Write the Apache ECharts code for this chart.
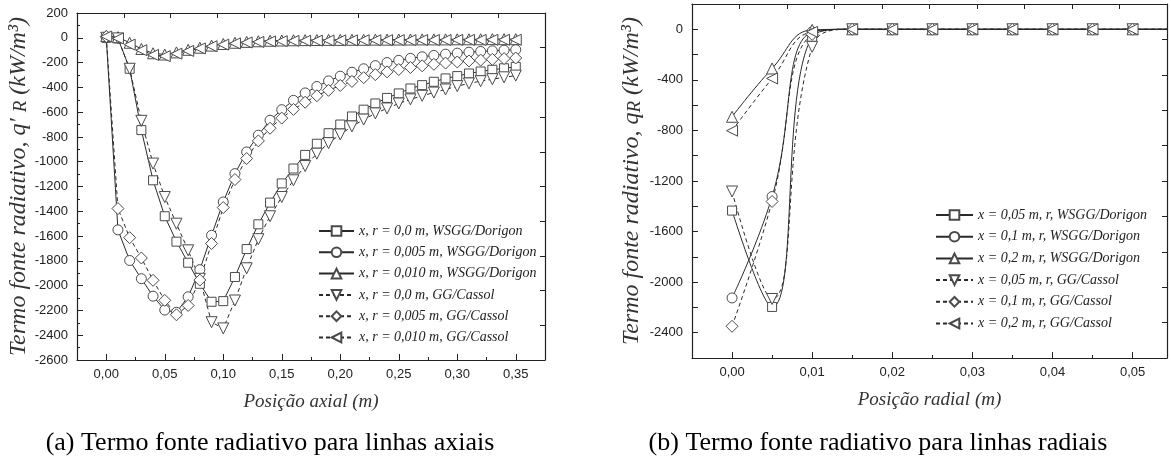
<!DOCTYPE html>
<html><head><meta charset="utf-8">
<script src="https://cdn.jsdelivr.net/npm/echarts@6/dist/echarts.min.js"></script>
<style>html,body{margin:0;padding:0;background:#fff}#c{width:1171px;height:461px}</style>
</head><body><div id="c"></div>
<script>
// ---------- DATA (a) axial lines ----------
const axialX = [0,0.01,0.02,0.03,0.04,0.05,0.06,0.07,0.08,0.09,0.10,0.11,0.12,0.13,0.14,0.15,0.16,0.17,0.18,0.19,0.20,0.21,0.22,0.23,0.24,0.25,0.26,0.27,0.28,0.29,0.30,0.31,0.32,0.33,0.34,0.35];
const axR0WSGG   = [0,-5,-250,-745,-1150,-1440,-1645,-1815,-1985,-2130,-2125,-1930,-1705,-1505,-1330,-1175,-1055,-945,-855,-770,-700,-635,-580,-530,-485,-449,-409,-382,-355,-328,-309,-288,-272,-258,-246,-235];
const axR005WSGG = [0,-1550,-1797,-1944,-2085,-2197,-2215,-2090,-1871,-1594,-1325,-1096,-921,-786,-665,-580,-505,-445,-393,-348,-310,-278,-250,-225,-200,-182,-166,-153,-142,-132,-124,-116,-110,-105,-100,-96];
const axR010WSGG = [15,5,-40,-90,-125,-135,-118,-97,-80,-63,-50,-40,-33,-28,-24,-22,-20,-19,-18,-17,-17,-16,-16,-15,-15,-14,-14,-13,-13,-13,-12,-12,-12,-11,-11,-11];
const axR0GG     = [0,-5,-250,-670,-1015,-1285,-1500,-1715,-1945,-2295,-2345,-2120,-1860,-1625,-1440,-1285,-1150,-1035,-935,-850,-780,-715,-660,-610,-570,-530,-497,-468,-442,-417,-390,-368,-350,-334,-319,-305];
const axR005GG   = [10,-1378,-1613,-1777,-1957,-2119,-2235,-2160,-1955,-1660,-1370,-1144,-974,-832,-730,-648,-578,-520,-468,-424,-385,-352,-322,-297,-275,-256,-240,-226,-214,-204,-195,-187,-180,-174,-168,-163];
const axR010GG   = [10,-5,-55,-100,-138,-148,-128,-106,-86,-68,-55,-45,-38,-33,-29,-27,-25,-24,-23,-22,-21,-21,-20,-20,-19,-19,-19,-18,-18,-18,-17,-17,-17,-16,-16,-16];
const axialNames = ['x, r = 0,0 m, WSGG/Dorigon','x, r = 0,005 m, WSGG/Dorigon','x, r = 0,010 m, WSGG/Dorigon','x, r = 0,0 m, GG/Cassol','x, r = 0,005 m, GG/Cassol','x, r = 0,010 m, GG/Cassol'];
const axialXTicks = [0,0.05,0.10,0.15,0.20,0.25,0.30,0.35];
const axialXMinor = [0.025,0.075,0.125,0.175,0.225,0.275,0.325];

// ---------- DATA (b) radial lines ----------
const radialX = [0,0.005,0.01,0.015,0.02,0.025,0.03,0.035,0.04,0.045,0.05,0.055];
const rdX005WSGG = [-1434,-2196,-60,0,0,0,0,0,0,0,0,0];
const rdX01WSGG  = [-2125,-1323,-20,0,0,0,0,0,0,0,0,0];
const rdX02WSGG  = [-692,-310,-5,0,0,0,0,0,0,0,0,0];
const rdX005GG   = [-1283,-2133,-139,0,0,0,0,0,0,0,0,0];
const rdX01GG    = [-2349,-1362,-40,0,0,0,0,0,0,0,0,0];
const rdX02GG    = [-802,-389,-20,0,0,0,0,0,0,0,0,0];
const radialNames = ['x = 0,05 m, r, WSGG/Dorigon','x = 0,1 m, r, WSGG/Dorigon','x = 0,2 m, r, WSGG/Dorigon','x = 0,05 m, r, GG/Cassol','x = 0,1 m, r, GG/Cassol','x = 0,2 m, r, GG/Cassol'];
const radialXTicks = [0,0.01,0.02,0.03,0.04,0.05];
const radialXMinor = [0.005,0.015,0.025,0.035,0.045];

// ---------- STYLE ----------
const LINE = '#2a2a2a', MARK = '#4a4a4a';
const SANS = 'Liberation Sans', SERIF = 'Liberation Serif';
const markers = [
  {symbol:'rect', size:9, rot:0},
  {symbol:'circle', size:10, rot:0},
  {symbol:'triangle', size:11, rot:0},
  {symbol:'triangle', size:11, rot:180},
  {symbol:'diamond', size:12, rot:0},
  {symbol:'triangle', size:11, rot:90}
];
const dashes = ['solid','solid','solid',[4,3],[4,3],[4,3]];

function pairs(xs, ys, lastNoSymbol){
  return xs.map((x,i)=>{
    const item = {value:[x, ys[i]]};
    if (lastNoSymbol && i === xs.length-1) item.symbol = 'none';
    return item;
  });
}
function mkSeries(names, xs, ysList, xi, yi, smooth, lastNoSymbol){
  return names.map((n,k)=>({
    name:n, type:'line', xAxisIndex:xi, yAxisIndex:yi,
    data: pairs(xs, ysList[k], lastNoSymbol),
    symbol: markers[k].symbol, symbolSize: markers[k].size, symbolRotate: markers[k].rot,
    showAllSymbol:true, smooth: smooth ? 0.45 : false, clip:true,
    lineStyle:{color:LINE, width:1, type:dashes[k]},
    itemStyle:{color:'#fff', borderColor:MARK, borderWidth:1},
    emphasis:{disabled:true}, animation:false, z: 3
  }));
}
const comma2 = v => v.toFixed(2).replace('.', ',');
const axisLineS = {show:true, onZero:false, lineStyle:{color:'#222', width:1.2}};
const hiddenLine = {show:false, onZero:false};
const labelS = {fontFamily:SANS, fontSize:13, color:'#222'};
const nameS = {fontFamily:SERIF, fontStyle:'italic', fontSize:19, color:'#333'};
const yNameS = {fontFamily:SERIF, fontStyle:'italic', fontSize:24, color:'#333'};
const yNameSub = {fontFamily:SERIF, fontStyle:'italic', fontSize:19, color:'#333', verticalAlign:'bottom'};

function frameAxes(gi){
  return {
    top:{gridIndex:gi, type:'value', position:'top', min:0, max:10, interval:1,
      axisLine:axisLineS, axisTick:{inside:true, length:5, lineStyle:{color:'#222'}},
      axisLabel:{show:false}, splitLine:{show:false}},
    right:{gridIndex:gi, type:'value', position:'right', min:0, max:10, interval:1,
      axisLine:axisLineS, axisTick:{inside:true, length:5, lineStyle:{color:'#222'}},
      axisLabel:{show:false}, splitLine:{show:false}}
  };
}
const f0 = frameAxes(0), f1 = frameAxes(1);

const option = {
  backgroundColor:'#fff',
  animation:false,
  grid:[
    {left:77, top:13, width:468, height:347},
    {left:692, top:4, width:475, height:354}
  ],
  xAxis:[
    {gridIndex:0, type:'value', min:-0.025, max:0.375, position:'bottom',
      axisLine:axisLineS,
      axisTick:{inside:true, length:6, customValues:axialXTicks, lineStyle:{color:'#222'}},
      axisLabel:Object.assign({customValues:axialXTicks, formatter:comma2, margin:8}, labelS),
      splitLine:{show:false},
      name:'Posição axial (m)', nameLocation:'middle', nameGap:32, nameTextStyle:nameS},
    {gridIndex:0, type:'value', min:-0.025, max:0.375, position:'bottom',
      axisLine:hiddenLine,
      axisTick:{inside:true, length:3, customValues:axialXMinor, lineStyle:{color:'#222'}},
      axisLabel:{show:false}, splitLine:{show:false}},
    f0.top,
    {gridIndex:1, type:'value', min:-0.005, max:0.0543, position:'bottom',
      axisLine:axisLineS,
      axisTick:{inside:true, length:6, customValues:radialXTicks, lineStyle:{color:'#222'}},
      axisLabel:Object.assign({customValues:radialXTicks, formatter:comma2, margin:8}, labelS),
      splitLine:{show:false},
      name:'Posição radial (m)', nameLocation:'middle', nameGap:32, nameTextStyle:nameS},
    {gridIndex:1, type:'value', min:-0.005, max:0.0543, position:'bottom',
      axisLine:hiddenLine,
      axisTick:{inside:true, length:3, customValues:radialXMinor, lineStyle:{color:'#222'}},
      axisLabel:{show:false}, splitLine:{show:false}},
    f1.top
  ],
  yAxis:[
    {gridIndex:0, type:'value', min:-2600, max:200, interval:200, position:'left',
      axisLine:axisLineS,
      axisTick:{inside:true, length:6, lineStyle:{color:'#222'}},
      minorTick:{show:true, splitNumber:2, length:3, lineStyle:{color:'#222'}},
      axisLabel:Object.assign({margin:9, showMinLabel:true, showMaxLabel:true, formatter:v => String(v)}, labelS),
      splitLine:{show:false},
      name:"{t|Termo fonte radiativo, q′ }{s|R}{t| (kW/m³)}", nameLocation:'middle', nameGap:44, nameRotate:90,
      nameTextStyle:Object.assign({rich:{t:yNameS, s:yNameSub}}, yNameS)},
    f0.right,
    {gridIndex:1, type:'value', min:-2600, max:200, interval:200, position:'left',
      axisLine:axisLineS,
      axisTick:{inside:true, length:6, lineStyle:{color:'#222'}},
      axisLabel:Object.assign({margin:9, formatter:v => (v % 400 === 0 ? String(v) : '')}, labelS),
      splitLine:{show:false},
      name:"{t|Termo fonte radiativo, q}{s|R}{t| (kW/m³)}", nameLocation:'middle', nameGap:48, nameRotate:90,
      nameTextStyle:Object.assign({rich:{t:yNameS, s:yNameSub}}, yNameS)},
    f1.right
  ],
  legend:[
    {data:axialNames, orient:'vertical', left:313, top:219, itemWidth:35, itemHeight:12, itemGap:7.3,
      selectedMode:false, textStyle:{fontFamily:SERIF, fontStyle:'italic', fontSize:14, color:'#222'}},
    {data:radialNames, orient:'vertical', left:930, top:203, itemWidth:37, itemHeight:12, itemGap:7.7,
      selectedMode:false, textStyle:{fontFamily:SERIF, fontStyle:'italic', fontSize:14, color:'#222'}}
  ],
  graphic:[
    {type:'text', x:270, y:443, style:{text:'(a) Termo fonte radiativo para linhas axiais', fontFamily:SERIF, fontSize:26, fill:'#000', textAlign:'center', textVerticalAlign:'middle'}},
    {type:'text', x:878, y:443, style:{text:'(b) Termo fonte radiativo para linhas radiais', fontFamily:SERIF, fontSize:26, fill:'#000', textAlign:'center', textVerticalAlign:'middle'}}
  ],
  series: [].concat(
    mkSeries(axialNames, axialX, [axR0WSGG, axR005WSGG, axR010WSGG, axR0GG, axR005GG, axR010GG], 0, 0, false, false),
    mkSeries(radialNames, radialX, [rdX005WSGG, rdX01WSGG, rdX02WSGG, rdX005GG, rdX01GG, rdX02GG], 3, 2, true, true)
  )
};
const chart = echarts.init(document.getElementById('c'));
chart.setOption(option);
</script></body></html>
